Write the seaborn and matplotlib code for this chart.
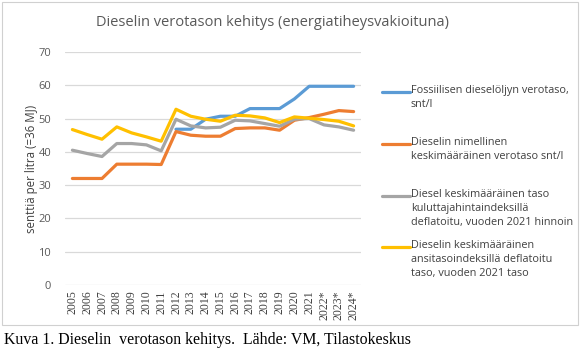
import numpy as np
import pandas as pd
import seaborn as sns
import matplotlib
matplotlib.use("Agg")
import matplotlib.pyplot as plt
from matplotlib.lines import Line2D
from matplotlib.patches import Rectangle

years = ["2005", "2006", "2007", "2008", "2009", "2010", "2011", "2012", "2013", "2014",
         "2015", "2016", "2017", "2018", "2019", "2020", "2021", "2022*", "2023*", "2024*"]

fossil = [np.nan, np.nan, np.nan, np.nan, np.nan, np.nan, np.nan, 46.8, 46.8, 49.8,
          50.7, 50.7, 53.0, 53.0, 53.0, 55.9, 59.7, 59.7, 59.7, 59.7]
nominal = [32.0, 32.0, 32.0, 36.3, 36.3, 36.3, 36.2, 46.1, 45.0, 44.7,
           44.7, 47.0, 47.2, 47.2, 46.5, 49.5, 50.3, 51.3, 52.4, 52.1]
cpi_defl = [40.5, 39.5, 38.6, 42.5, 42.5, 42.1, 40.3, 49.8, 47.8, 47.2,
            47.4, 49.5, 49.3, 48.5, 47.7, 49.8, 50.0, 48.1, 47.5, 46.5]
wage_defl = [46.7, 45.2, 43.8, 47.5, 45.7, 44.5, 43.2, 52.8, 50.7, 49.8,
             49.2, 51.0, 50.8, 50.2, 48.8, 50.5, 50.1, 49.7, 49.2, 47.8]

series_names = [
    "Fossiilisen dieselöljyn verotaso,\nsnt/l",
    "Dieselin nimellinen\nkeskimääräinen verotaso snt/l",
    "Diesel keskimääräinen taso\nkuluttajahintaindeksillä\ndeflatoitu, vuoden 2021 hinnoin",
    "Dieselin keskimääräinen\nansitasoindeksillä deflatoitu\ntaso, vuoden 2021 taso",
]
colors = ["#5B9BD5", "#ED7D31", "#A5A5A5", "#FFC000"]

rows = []
for name, vals in zip(series_names, [fossil, nominal, cpi_defl, wage_defl]):
    for i, v in enumerate(vals):
        rows.append({"idx": i, "value": v, "series": name})
df = pd.DataFrame(rows).dropna()

sns.set_theme(style="white")
plt.rcParams['font.family'] = ['Open Sans', 'DejaVu Sans']

W, H = 586, 350
fig = plt.figure(figsize=(W / 100, H / 100), dpi=100)
ax = fig.add_axes([65 / W, 1 - 285 / H, (361 - 65) / W, (285 - 52) / H])

sns.lineplot(data=df, x="idx", y="value", hue="series", hue_order=series_names,
             palette=colors, linewidth=2.3, ax=ax, legend=False, sort=True)

ax.set_xlim(-0.5, len(years) - 0.5)
ax.set_ylim(0, 70)
ax.set_yticks(range(0, 71, 10))
ax.set_xticks(range(len(years)))
ax.set_xticklabels(years, rotation=90, family=['Liberation Serif'], fontsize=8.5, color="#404040")
for lab in ax.get_yticklabels():
    lab.set_fontsize(8)
    lab.set_color("#595959")
ax.tick_params(axis="both", length=0, pad=4)
ax.tick_params(axis="y", pad=10)
ax.grid(axis="y", color="#D9D9D9", linewidth=0.9)
ax.set_axisbelow(True)
for s in ax.spines.values():
    s.set_visible(False)
ax.set_xlabel("")
ax.set_ylabel("senttiä per litra (=36 MJ)", fontsize=8.3, color="#404040")
ax.yaxis.set_label_coords(-27 / 296, 0.5)

fig.text(272 / W, 1 - 22 / H, "Dieselin verotason kehitys (energiatiheysvakioituna)",
         ha="center", va="center", fontsize=10.5, color="#595959")

# Legend (manual, first text line aligned with key)
leg_y = [92, 144, 196, 247]
for name, c, y in zip(series_names, colors, leg_y):
    fig.add_artist(Line2D([382 / W, 410 / W], [1 - y / H, 1 - y / H], color=c, linewidth=2.3,
                          transform=fig.transFigure))
    fig.text(411 / W, 1 - (y - 7) / H, name, ha="left", va="top", fontsize=7.8,
             color="#404040", linespacing=1.35)

# Chart border
fig.add_artist(Rectangle((2 / W, 1 - 325 / H), (578 - 2) / W, (325 - 2) / H,
                         transform=fig.transFigure, fill=False, edgecolor="#D0D0D0", linewidth=0.8))

fig.text(4 / W, 1 - 340 / H, "Kuva 1. Dieselin  verotason kehitys.  Lähde: VM, Tilastokeskus",
         ha="left", va="center", fontsize=11.4, family=['Liberation Serif'], color="black")

fig.savefig("out.png", dpi=100)
